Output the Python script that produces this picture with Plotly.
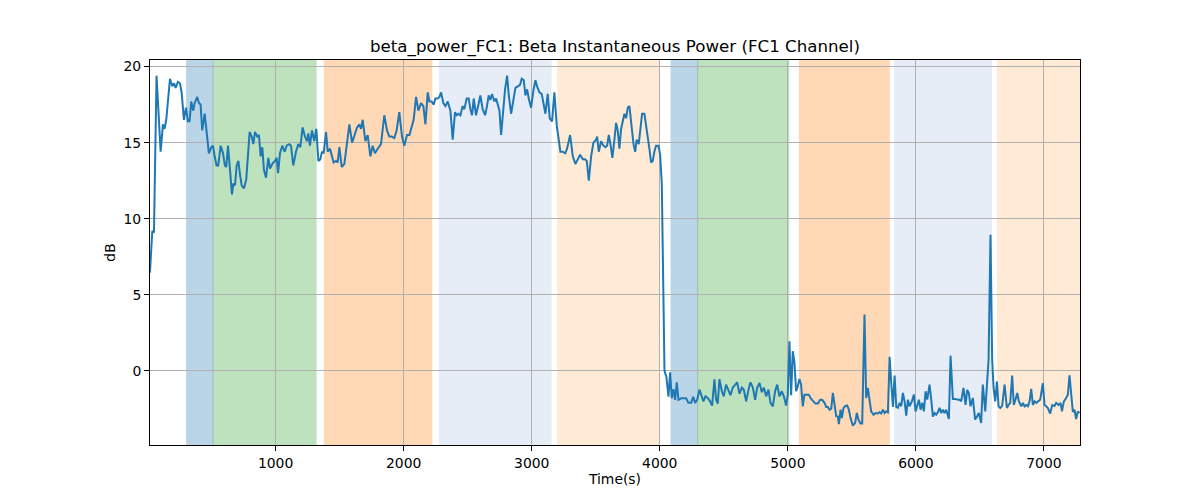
import plotly.graph_objects as go

# ---- data ----
time_s = [
    18.5, 37, 50, 70, 102, 120, 133, 146, 175, 193, 206, 219, 237, 253, 266, 284, 300, 315, 328, 341,
    357, 368, 388, 401, 414, 427, 446, 461, 479, 498, 511, 524, 539, 552, 571, 589, 604, 615, 628, 644,
    659, 670, 683, 696, 709, 722, 735, 753, 771, 797, 813, 826, 839, 857, 870, 883, 896, 909, 925, 943,
    956, 974, 995, 1008, 1019, 1034, 1052, 1071, 1086,
    1107, 1120, 1138, 1159, 1177, 1193, 1211, 1229, 1245, 1255, 1268, 1284, 1302, 1318, 1334, 1349,
    1362, 1375, 1394, 1407, 1425, 1440, 1453, 1472, 1485, 1498, 1516, 1537, 1555, 1576, 1597, 1615,
    1636, 1654, 1667, 1680, 1701, 1719, 1740, 1758, 1776, 1797, 1823, 1849, 1870, 1888, 1906, 1927,
    1945, 1966, 1987, 2005, 2026, 2045, 2063, 2078, 2097, 2115, 2136, 2154, 2170, 2188,
    2201, 2219, 2235, 2248, 2266, 2279, 2292, 2310, 2326, 2344, 2365, 2383, 2401, 2414, 2427, 2443,
    2461, 2474, 2492, 2508, 2521, 2534, 2547, 2565, 2584, 2599, 2617, 2636, 2651, 2664, 2677, 2690,
    2709, 2722, 2735, 2748, 2761, 2779, 2792, 2808, 2821, 2839, 2857, 2873, 2891, 2909, 2922, 2938,
    2951, 2964, 2977, 2995, 3013, 3029, 3042, 3060, 3078, 3094, 3107, 3125, 3141, 3159, 3177, 3196,
    3211, 3224, 3242, 3261, 3276,
    3300, 3321, 3341, 3360, 3378, 3399, 3417, 3430, 3446, 3464, 3482, 3503, 3511, 3524, 3542, 3560,
    3576, 3589, 3602, 3615, 3630, 3646, 3659, 3672, 3685, 3698, 3711, 3724, 3737, 3750, 3763, 3776,
    3795, 3808, 3820, 3836, 3849, 3862, 3880, 3893, 3906, 3919, 3932, 3945, 3958, 3971, 3990, 4003,
    4016, 4029, 4037, 4052, 4068, 4081, 4094, 4107, 4120, 4133, 4146, 4167, 4188, 4206, 4224, 4245,
    4261, 4276, 4292,
    4310, 4323, 4341, 4357, 4375, 4393, 4409, 4427, 4440, 4453, 4466, 4485, 4500, 4518, 4537, 4552,
    4570, 4589, 4604, 4623, 4641, 4656, 4675, 4693, 4708, 4727, 4745, 4761, 4779, 4797, 4813, 4831,
    4849, 4865, 4883, 4901, 4917, 4935, 4953, 4969, 4987, 5000, 5013, 5026, 5039, 5052, 5065, 5078,
    5091, 5104, 5117, 5130, 5149, 5164, 5182, 5201, 5216, 5235, 5253, 5268, 5287, 5300, 5313, 5326,
    5339, 5352,
    5378, 5391, 5399, 5412, 5422, 5435, 5448, 5464, 5477, 5490, 5508, 5526, 5539, 5552, 5568, 5581,
    5599, 5612, 5625, 5638, 5651, 5670, 5685, 5703, 5716, 5729, 5743, 5756, 5768, 5782, 5795, 5808,
    5821, 5834, 5847, 5860, 5873, 5886, 5899, 5912, 5925, 5938, 5951, 5969, 5985, 5998, 6011, 6024,
    6037, 6050, 6063, 6076, 6089, 6107, 6120, 6133, 6146, 6159, 6172, 6185, 6198, 6211, 6224, 6237,
    6258, 6271, 6289, 6308, 6328,
    6341, 6354, 6372, 6388, 6401, 6414, 6427, 6445, 6463, 6479, 6492, 6510, 6523, 6542, 6555, 6568,
    6583, 6596, 6607, 6620, 6633, 6646, 6659, 6674, 6693, 6711, 6724, 6737, 6752, 6765, 6778, 6792,
    6805, 6823, 6836, 6849, 6862, 6875, 6888, 6901, 6914, 6927, 6940, 6953, 6971, 6992, 7005, 7018,
    7031, 7049, 7065, 7083, 7096, 7114, 7130, 7141, 7156, 7174, 7187, 7200, 7213, 7226, 7239, 7252,
    7265, 7278,
]

power_db = [
    6.45, 9.2, 9.1, 19.4, 14.4, 16.2, 15.9, 16.5, 19.2, 18.7, 18.9, 18.6, 19.0, 18.9, 18.3, 16.5, 17.3, 16.4, 16.4, 17.7,
    17.1, 17.6, 18.0, 17.6, 17.5, 15.8, 16.9, 15.5, 14.3, 14.7, 14.8, 14.1, 13.5, 13.5, 14.8, 14.3, 13.5, 13.4, 14.8, 13.2,
    11.6, 12.3, 12.2, 13.5, 13.8, 12.9, 12.2, 12.0, 12.6, 15.7, 15.4, 14.9, 15.7, 15.4, 15.5, 14.1, 14.7, 13.2, 12.7, 14.0,
    13.3, 13.6, 13.8, 14.0, 13.0, 14.3, 14.8, 14.4, 14.8,
    14.9, 14.8, 13.5, 14.4, 14.9, 14.7, 16.0, 15.4, 15.1, 15.6, 14.8, 15.8, 15.1, 15.9, 13.8, 13.9,
    14.4, 14.3, 15.7, 14.4, 14.6, 14.1, 13.7, 13.8, 13.7, 14.7, 13.4, 13.6, 14.9, 16.2, 15.0, 15.5,
    16.0, 16.2, 15.9, 16.5, 15.1, 15.5, 14.1, 14.8, 14.3, 14.6, 14.9, 16.8, 15.8, 15.4, 15.4, 15.3,
    15.8, 17.0, 15.4, 14.8, 15.5, 15.5, 16.1, 16.5, 18.0, 17.1, 17.6, 17.4, 16.2, 18.3,
    17.7, 17.7, 17.5, 17.9, 17.9, 18.0, 18.3, 17.6, 17.4, 17.7, 17.1, 15.2, 17.0, 16.8, 16.9, 16.8,
    17.4, 17.2, 17.9, 17.9, 17.2, 16.8, 17.9, 16.8, 17.5, 18.1, 17.2, 16.8, 17.4, 18.1, 17.8, 18.2,
    17.7, 17.9, 17.5, 17.1, 15.5, 17.4, 18.5, 19.4, 18.1, 16.9, 17.9, 18.6, 18.7, 18.8, 19.2, 19.1,
    18.1, 18.5, 17.9, 17.3, 18.4, 19.1, 18.7, 18.3, 18.2, 17.4, 16.9, 18.2, 16.6, 16.4, 18.3, 16.1,
    15.2, 14.4, 14.4, 14.3, 14.6,
    15.5, 14.1, 13.6, 13.9, 14.2, 13.9, 13.9, 13.8, 12.5, 14.1, 15.0, 15.2, 15.4, 14.4, 15.1, 14.8,
    14.7, 14.8, 15.5, 14.9, 14.0, 15.2, 16.3, 15.8, 14.6, 15.9, 16.4, 16.9, 16.6, 17.3, 17.4, 16.3,
    14.9, 14.4, 15.2, 14.9, 16.1, 16.9, 16.9, 16.2, 15.5, 14.6, 13.7, 13.8, 14.4, 14.8, 14.8, 14.2,
    12.3, 5.2, 0.0, -0.4, -1.7, -0.1, -1.8, -1.2, -1.9, -0.75, -1.9, -1.8, -1.8, -1.8, -2.1, -2.1,
    -1.7, -2.1, -1.9,
    -1.23, -1.56, -2.0, -1.67, -1.78, -2.0, -2.28, -0.55, -1.9, -2.15, -0.55, -1.34, -1.67, -0.9, -1.34, -1.6,
    -1.1, -0.9, -0.75, -1.5, -1.1, -1.23, -2.0, -1.23, -0.75, -1.1, -1.9, -1.1, -0.8, -1.4, -1.1, -1.67,
    -1.23, -2.1, -2.33, -1.34, -0.9, -1.67, -1.34, -1.67, -2.28, -1.56, 1.95, -1.6, 1.29, 0.53, -1.34, -1.0,
    -0.53, -0.9, -2.33, -1.56, -1.56, -1.56, -1.84, -2.0, -2.15, -2.15, -1.9, -1.9, -2.1, -2.37, -2.37, -2.55,
    -2.5, -1.45,
    -2.98, -3.0, -3.5, -2.55, -3.1, -2.43, -2.32, -2.28, -2.55, -3.1, -3.6, -3.42, -2.77, -3.2, -3.46, -3.46,
    3.7, -1.78, -1.12, -1.89, -2.66, -2.88, -2.77, -2.8, -2.72, -2.8, -2.55, -2.77, -2.66, -2.72, 0.92, -0.8,
    -2.37, -0.31, -2.37, -2.43, -2.1, -2.32, -1.45, -2.0, -2.94, -1.89, -2.32, -2.0, -1.56, -2.66, -2.2, -1.89,
    -2.55, -2.1, -2.66, -1.34, -1.89, -0.9, -1.89, -3.0, -2.77, -2.88, -2.72, -2.43, -2.77, -2.55, -2.77, -2.55,
    -3.16, 1.0, -1.84, -1.84, -1.89,
    -1.89, -2.0, -1.12, -2.24, -1.25, -1.45, -2.33, -1.78, -3.2, -2.98, -2.77, -3.42, -0.9, -2.66, -1.0, 0.74,
    8.95, 0.74, -1.12, -2.0, -0.7, -2.33, -2.44, -2.3, -0.9, -2.44, -2.24, -2.1, -0.3, -2.24, -1.9, -1.45,
    -2.0, -2.33, -2.1, -2.33, -2.24, -2.33, -2.0, -1.18, -2.24, -2.0, -2.1, -2.0, -1.9, -0.8, -2.24, -2.33,
    -2.44, -2.8, -2.24, -2.3, -2.1, -2.24, -2.1, -2.66, -2.0, -1.78, -1.56, -0.3, -1.67, -2.7, -2.55, -3.16,
    -2.66, -2.77,
]

# shaded phases (start, end, colour)
phase_start = [305, 511, 1380, 2279, 3203, 4088, 4297, 5091, 5834, 6638]
phase_end = [511, 1316, 2220, 3151, 3998, 4297, 5008, 5792, 6591, 7300]
phase_color = ["#1f77b4", "#2ca02c", "#ff7f0e", "#aec7e8", "#ffbb78",
               "#1f77b4", "#2ca02c", "#ff7f0e", "#aec7e8", "#ffbb78"]

x_range = [19, 7282]
y_range = [-4.87, 20.43]
y_ticks = [0, 5, 10, 15, 20]
x_ticks = [1000, 2000, 3000, 4000, 5000, 6000, 7000]

FONT = "DejaVu Sans, Liberation Sans, sans-serif"
TICK = 13.9
TITLE = 16.67

fig = go.Figure()

shapes = []
for s, e, c in zip(phase_start, phase_end, phase_color):
    shapes.append(dict(
        type="rect", xref="x", yref="paper", x0=s, x1=e, y0=0, y1=1,
        fillcolor=c, opacity=0.3, line=dict(color=c, width=1), layer="below",
    ))

fig.add_trace(go.Scatter(
    x=time_s, y=power_db, mode="lines",
    line=dict(color="#1f77b4", width=2),
    showlegend=False,
))

fig.update_layout(
    width=1200, height=500,
    margin=dict(l=142, r=128, t=52, b=63),
    paper_bgcolor="white", plot_bgcolor="white",
    font=dict(family=FONT, size=TICK, color="black"),
    shapes=shapes,
    title=dict(
        text="beta_power_FC1: Beta Instantaneous Power (FC1 Channel)",
        x=(615 - 8) / 1200, xanchor="center", xref="container",
        y=1 - 38 / 500, yanchor="middle", yref="container",
        font=dict(family=FONT, size=TITLE, color="black"),
    ),
    xaxis=dict(
        range=x_range, tickvals=x_ticks,
        showgrid=True, gridcolor="#b0b0b0", gridwidth=0.8,
        showline=True, linecolor="black", linewidth=1, mirror=True,
        ticks="outside", ticklen=5, tickcolor="black", tickwidth=1,
        zeroline=False,
        title=dict(text="Time(s)", standoff=4, font=dict(size=TICK)),
        tickfont=dict(size=TICK),
    ),
    yaxis=dict(
        range=y_range, tickvals=y_ticks,
        showgrid=True, gridcolor="#b0b0b0", gridwidth=0.8,
        showline=True, linecolor="black", linewidth=1, mirror=True,
        ticks="outside", ticklen=5, tickcolor="black", tickwidth=1,
        zeroline=False,
        title=dict(text="dB", standoff=4, font=dict(size=TICK)),
        tickfont=dict(size=TICK),
    ),
)

fig.write_html("out.html")
